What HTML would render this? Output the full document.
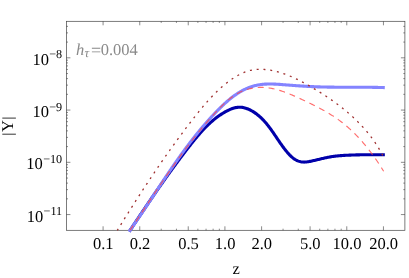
<!DOCTYPE html>
<html><head><meta charset="utf-8"><title>plot</title>
<style>html,body{margin:0;padding:0;background:#fff;}body{width:409px;height:278px;overflow:hidden;font-family:"Liberation Serif",serif;}</style>
</head><body>
<svg width="409" height="278" viewBox="0 0 409 278" style="display:block;will-change:transform">
<rect width="409" height="278" fill="#fff"/>
<g stroke="#444444" stroke-width="0.7" fill="none">
<rect x="66.4" y="21.3" width="338.5" height="209.0"/>
<path d="M103.08,230.3 v-4 M103.08,21.3 v4 M139.76,230.3 v-4 M139.76,21.3 v4 M188.24,230.3 v-4 M188.24,21.3 v4 M224.92,230.3 v-4 M224.92,21.3 v4 M261.60,230.3 v-4 M261.60,21.3 v4 M310.09,230.3 v-4 M310.09,21.3 v4 M346.77,230.3 v-4 M346.77,21.3 v4 M383.44,230.3 v-4 M383.44,21.3 v4 M161.21,230.3 v-1.6 M161.21,21.3 v1.6 M176.44,230.3 v-1.6 M176.44,21.3 v1.6 M197.89,230.3 v-1.6 M197.89,21.3 v1.6 M206.05,230.3 v-1.6 M206.05,21.3 v1.6 M213.11,230.3 v-1.6 M213.11,21.3 v1.6 M219.35,230.3 v-1.6 M219.35,21.3 v1.6 M283.06,230.3 v-1.6 M283.06,21.3 v1.6 M298.28,230.3 v-1.6 M298.28,21.3 v1.6 M319.73,230.3 v-1.6 M319.73,21.3 v1.6 M327.89,230.3 v-1.6 M327.89,21.3 v1.6 M334.96,230.3 v-1.6 M334.96,21.3 v1.6 M341.19,230.3 v-1.6 M341.19,21.3 v1.6 M66.4,214.57 h4 M404.9,214.57 h-4 M66.4,162.32 h4 M404.9,162.32 h-4 M66.4,110.07 h4 M404.9,110.07 h-4 M66.4,57.82 h4 M404.9,57.82 h-4 M66.4,198.84 h1.6 M404.9,198.84 h-1.6 M66.4,189.64 h1.6 M404.9,189.64 h-1.6 M66.4,183.11 h1.6 M404.9,183.11 h-1.6 M66.4,178.05 h1.6 M404.9,178.05 h-1.6 M66.4,173.91 h1.6 M404.9,173.91 h-1.6 M66.4,170.41 h1.6 M404.9,170.41 h-1.6 M66.4,167.38 h1.6 M404.9,167.38 h-1.6 M66.4,164.71 h1.6 M404.9,164.71 h-1.6 M66.4,146.59 h1.6 M404.9,146.59 h-1.6 M66.4,137.39 h1.6 M404.9,137.39 h-1.6 M66.4,130.86 h1.6 M404.9,130.86 h-1.6 M66.4,125.80 h1.6 M404.9,125.80 h-1.6 M66.4,121.66 h1.6 M404.9,121.66 h-1.6 M66.4,118.16 h1.6 M404.9,118.16 h-1.6 M66.4,115.13 h1.6 M404.9,115.13 h-1.6 M66.4,112.46 h1.6 M404.9,112.46 h-1.6 M66.4,94.34 h1.6 M404.9,94.34 h-1.6 M66.4,85.14 h1.6 M404.9,85.14 h-1.6 M66.4,78.61 h1.6 M404.9,78.61 h-1.6 M66.4,73.55 h1.6 M404.9,73.55 h-1.6 M66.4,69.41 h1.6 M404.9,69.41 h-1.6 M66.4,65.91 h1.6 M404.9,65.91 h-1.6 M66.4,62.88 h1.6 M404.9,62.88 h-1.6 M66.4,60.21 h1.6 M404.9,60.21 h-1.6 M66.4,42.09 h1.6 M404.9,42.09 h-1.6 M66.4,32.89 h1.6 M404.9,32.89 h-1.6 M66.4,26.36 h1.6 M404.9,26.36 h-1.6" stroke-width="0.6" stroke="#3c3c3c"/>
</g>
<g fill="none">
<path d="M130.09,230.30 L130.17,230.18 L130.64,229.47 L131.12,228.75 L131.60,228.04 L132.07,227.32 L132.55,226.60 L133.02,225.89 L133.50,225.17 L133.98,224.46 L134.45,223.75 L134.93,223.03 L135.40,222.32 L135.88,221.60 L136.36,220.89 L136.83,220.18 L137.31,219.46 L137.79,218.75 L138.26,218.04 L138.74,217.33 L139.21,216.61 L139.69,215.90 L140.17,215.19 L140.64,214.48 L141.12,213.77 L141.60,213.06 L142.07,212.35 L142.55,211.64 L143.03,210.93 L143.50,210.22 L143.98,209.51 L144.46,208.80 L144.94,208.09 L145.41,207.38 L145.89,206.68 L146.37,205.97 L146.85,205.26 L147.33,204.55 L147.81,203.85 L148.28,203.14 L148.76,202.44 L149.24,201.73 L149.72,201.02 L150.20,200.32 L150.68,199.61 L151.16,198.91 L151.64,198.20 L152.13,197.50 L152.61,196.80 L153.09,196.09 L153.57,195.39 L154.05,194.69 L154.54,193.98 L155.02,193.28 L155.50,192.58 L155.99,191.88 L156.47,191.18 L156.96,190.48 L157.44,189.78 L157.93,189.08 L158.41,188.38 L158.90,187.68 L159.39,186.98 L159.88,186.28 L160.36,185.58 L160.85,184.88 L161.34,184.18 L161.83,183.49 L162.32,182.79 L162.81,182.09 L163.30,181.39 L163.79,180.70 L164.29,180.00 L164.78,179.31 L165.27,178.61 L165.77,177.92 L166.26,177.22 L166.76,176.53 L167.25,175.84 L167.75,175.14 L168.24,174.45 L168.74,173.76 L169.24,173.06 L169.74,172.37 L170.24,171.68 L170.74,170.99 L171.24,170.30 L171.74,169.61 L172.24,168.92 L172.75,168.23 L173.25,167.54 L173.75,166.85 L174.26,166.16 L174.77,165.47 L175.27,164.79 L175.78,164.10 L176.29,163.41 L176.80,162.72 L177.31,162.04 L177.82,161.35 L178.33,160.67 L178.84,159.98 L179.35,159.30 L179.87,158.61 L180.38,157.93 L180.90,157.25 L181.42,156.56 L181.93,155.88 L182.45,155.20 L182.97,154.52 L183.49,153.83 L184.01,153.15 L184.53,152.47 L185.06,151.79 L185.58,151.11 L186.10,150.43 L186.63,149.75 L187.16,149.08 L187.69,148.40 L188.21,147.72 L188.74,147.04 L189.27,146.37 L189.81,145.69 L190.34,145.01 L190.87,144.34 L191.41,143.66 L191.95,142.99 L192.48,142.32 L193.02,141.64 L193.56,140.97 L194.11,140.31 L194.65,139.64 L195.20,138.97 L195.75,138.31 L196.30,137.65 L196.85,136.99 L197.41,136.33 L197.96,135.68 L198.52,135.02 L199.09,134.37 L199.65,133.73 L200.22,133.08 L200.79,132.44 L201.36,131.80 L201.94,131.17 L202.52,130.54 L203.10,129.91 L203.69,129.29 L204.28,128.67 L204.87,128.05 L205.47,127.44 L206.07,126.83 L206.67,126.23 L207.28,125.63 L207.89,125.04 L208.51,124.45 L209.13,123.87 L209.75,123.29 L210.38,122.72 L211.02,122.15 L211.65,121.59 L212.30,121.03 L212.94,120.48 L213.60,119.93 L214.25,119.40 L214.91,118.86 L215.58,118.34 L216.25,117.82 L216.93,117.31 L217.61,116.80 L218.30,116.30 L218.99,115.81 L219.69,115.32 L220.40,114.85 L221.11,114.38 L221.82,113.91 L222.54,113.46 L223.27,113.01 L224.01,112.57 L224.75,112.14 L225.50,111.72 L226.25,111.31 L227.01,110.91 L227.78,110.52 L228.55,110.14 L229.32,109.78 L230.10,109.43 L230.89,109.11 L231.68,108.80 L232.48,108.52 L233.28,108.26 L234.08,108.02 L234.89,107.82 L235.70,107.64 L236.52,107.48 L237.33,107.37 L238.15,107.28 L238.98,107.23 L239.80,107.21 L240.63,107.23 L241.46,107.30 L242.29,107.40 L243.12,107.53 L243.95,107.71 L244.78,107.92 L245.60,108.15 L246.42,108.42 L247.24,108.72 L248.05,109.05 L248.86,109.40 L249.66,109.77 L250.45,110.16 L251.23,110.57 L252.00,111.00 L252.76,111.45 L253.50,111.91 L254.24,112.38 L254.96,112.86 L255.67,113.36 L256.37,113.87 L257.06,114.39 L257.73,114.92 L258.40,115.47 L259.06,116.02 L259.70,116.58 L260.34,117.16 L260.97,117.74 L261.58,118.34 L262.19,118.94 L262.79,119.55 L263.38,120.17 L263.97,120.79 L264.54,121.42 L265.11,122.06 L265.67,122.71 L266.23,123.36 L266.77,124.02 L267.31,124.68 L267.85,125.35 L268.38,126.02 L268.90,126.70 L269.42,127.38 L269.93,128.07 L270.43,128.75 L270.94,129.44 L271.43,130.14 L271.93,130.83 L272.42,131.53 L272.91,132.23 L273.39,132.93 L273.87,133.63 L274.35,134.34 L274.83,135.04 L275.31,135.75 L275.78,136.46 L276.26,137.16 L276.74,137.87 L277.21,138.58 L277.69,139.29 L278.17,140.00 L278.65,140.70 L279.13,141.41 L279.61,142.12 L280.10,142.82 L280.59,143.53 L281.08,144.23 L281.58,144.93 L282.08,145.63 L282.59,146.33 L283.10,147.02 L283.61,147.72 L284.13,148.41 L284.66,149.10 L285.20,149.78 L285.74,150.47 L286.29,151.15 L286.85,151.82 L287.41,152.49 L287.98,153.14 L288.56,153.79 L289.15,154.43 L289.75,155.05 L290.36,155.65 L290.98,156.24 L291.61,156.81 L292.24,157.37 L292.89,157.89 L293.55,158.40 L294.22,158.88 L294.90,159.33 L295.60,159.76 L296.30,160.15 L297.02,160.51 L297.75,160.84 L298.49,161.13 L299.25,161.39 L300.02,161.61 L300.80,161.78 L301.60,161.92 L302.41,162.01 L303.24,162.07 L304.07,162.08 L304.92,162.06 L305.77,162.01 L306.64,161.93 L307.50,161.82 L308.38,161.69 L309.25,161.54 L310.13,161.38 L311.01,161.20 L311.89,161.01 L312.76,160.81 L313.63,160.61 L314.50,160.41 L315.36,160.20 L316.22,160.00 L317.07,159.79 L317.92,159.59 L318.76,159.39 L319.60,159.18 L320.44,158.98 L321.28,158.79 L322.11,158.59 L322.95,158.40 L323.78,158.21 L324.61,158.02 L325.44,157.84 L326.26,157.66 L327.09,157.49 L327.92,157.33 L328.75,157.17 L329.58,157.01 L330.42,156.86 L331.25,156.72 L332.08,156.59 L332.92,156.47 L333.76,156.35 L334.61,156.24 L335.45,156.14 L336.30,156.04 L337.14,155.95 L337.99,155.87 L338.84,155.79 L339.70,155.72 L340.55,155.65 L341.40,155.59 L342.26,155.53 L343.11,155.47 L343.97,155.42 L344.82,155.37 L345.68,155.32 L346.53,155.27 L347.39,155.23 L348.24,155.19 L349.10,155.15 L349.95,155.11 L350.81,155.08 L351.66,155.05 L352.52,155.02 L353.38,154.99 L354.23,154.96 L355.09,154.93 L355.94,154.91 L356.80,154.89 L357.65,154.87 L358.51,154.85 L359.36,154.83 L360.22,154.82 L361.07,154.80 L361.93,154.79 L362.78,154.78 L363.64,154.76 L364.49,154.75 L365.35,154.75 L366.20,154.74 L367.06,154.73 L367.91,154.72 L368.77,154.72 L369.62,154.71 L370.48,154.71 L371.33,154.71 L372.19,154.71 L373.04,154.70 L373.90,154.70 L374.75,154.70 L375.61,154.70 L376.46,154.70 L377.32,154.70 L378.17,154.70 L379.03,154.70 L379.88,154.70 L380.73,154.70 L381.59,154.70 L382.44,154.70 L383.30,154.70" stroke="#0000aa" stroke-width="3.1" stroke-linecap="square"/>
<path d="M129.97,230.30 L130.01,230.24 L130.49,229.57 L130.97,228.89 L131.45,228.21 L131.92,227.53 L132.40,226.85 L132.87,226.18 L133.34,225.50 L133.82,224.82 L134.29,224.14 L134.76,223.46 L135.23,222.78 L135.70,222.09 L136.17,221.41 L136.63,220.73 L137.10,220.05 L137.57,219.37 L138.03,218.69 L138.50,218.00 L138.96,217.32 L139.42,216.64 L139.89,215.96 L140.35,215.27 L140.81,214.59 L141.27,213.91 L141.73,213.22 L142.19,212.54 L142.65,211.85 L143.11,211.17 L143.56,210.48 L144.02,209.80 L144.48,209.12 L144.93,208.43 L145.39,207.75 L145.85,207.06 L146.30,206.38 L146.76,205.69 L147.21,205.01 L147.66,204.32 L148.12,203.64 L148.57,202.95 L149.02,202.26 L149.48,201.58 L149.93,200.89 L150.38,200.21 L150.83,199.52 L151.28,198.84 L151.74,198.15 L152.19,197.47 L152.64,196.78 L153.09,196.10 L153.54,195.41 L153.99,194.73 L154.44,194.04 L154.89,193.36 L155.34,192.67 L155.79,191.99 L156.24,191.30 L156.69,190.62 L157.15,189.94 L157.60,189.25 L158.05,188.57 L158.50,187.88 L158.95,187.20 L159.40,186.52 L159.85,185.83 L160.30,185.15 L160.75,184.47 L161.20,183.79 L161.65,183.10 L162.11,182.42 L162.56,181.74 L163.01,181.06 L163.46,180.38 L163.92,179.70 L164.37,179.01 L164.82,178.33 L165.28,177.65 L165.73,176.97 L166.19,176.30 L166.64,175.62 L167.10,174.94 L167.55,174.26 L168.01,173.58 L168.46,172.90 L168.92,172.23 L169.38,171.55 L169.84,170.87 L170.29,170.20 L170.75,169.52 L171.21,168.85 L171.67,168.17 L172.13,167.50 L172.60,166.82 L173.06,166.15 L173.52,165.48 L173.98,164.80 L174.45,164.13 L174.91,163.46 L175.38,162.79 L175.84,162.12 L176.31,161.45 L176.78,160.78 L177.25,160.11 L177.72,159.44 L178.19,158.77 L178.66,158.11 L179.13,157.44 L179.60,156.77 L180.08,156.11 L180.55,155.44 L181.03,154.78 L181.50,154.12 L181.98,153.45 L182.46,152.79 L182.94,152.13 L183.42,151.47 L183.90,150.81 L184.38,150.15 L184.87,149.49 L185.35,148.83 L185.84,148.17 L186.32,147.52 L186.81,146.86 L187.30,146.21 L187.79,145.55 L188.28,144.90 L188.78,144.25 L189.27,143.59 L189.76,142.94 L190.26,142.29 L190.76,141.64 L191.26,140.99 L191.76,140.34 L192.26,139.70 L192.76,139.05 L193.27,138.41 L193.77,137.76 L194.28,137.12 L194.79,136.47 L195.30,135.83 L195.81,135.19 L196.32,134.55 L196.84,133.91 L197.35,133.27 L197.87,132.63 L198.39,132.00 L198.91,131.36 L199.43,130.73 L199.96,130.09 L200.48,129.46 L201.01,128.83 L201.54,128.20 L202.07,127.57 L202.60,126.94 L203.14,126.31 L203.67,125.69 L204.21,125.06 L204.75,124.43 L205.29,123.81 L205.83,123.19 L206.38,122.57 L206.92,121.95 L207.47,121.33 L208.02,120.71 L208.57,120.09 L209.13,119.48 L209.68,118.86 L210.24,118.25 L210.80,117.64 L211.36,117.03 L211.92,116.42 L212.49,115.81 L213.06,115.20 L213.63,114.59 L214.20,113.99 L214.77,113.38 L215.35,112.78 L215.93,112.18 L216.51,111.58 L217.09,110.98 L217.67,110.38 L218.26,109.79 L218.85,109.19 L219.44,108.60 L220.03,108.02 L220.63,107.43 L221.23,106.85 L221.83,106.27 L222.43,105.69 L223.04,105.12 L223.65,104.55 L224.26,103.98 L224.88,103.42 L225.49,102.86 L226.11,102.31 L226.73,101.76 L227.36,101.22 L227.99,100.68 L228.62,100.14 L229.25,99.62 L229.89,99.09 L230.53,98.58 L231.18,98.06 L231.82,97.56 L232.47,97.06 L233.12,96.57 L233.78,96.08 L234.44,95.60 L235.10,95.13 L235.77,94.67 L236.44,94.21 L237.11,93.76 L237.79,93.32 L238.47,92.89 L239.15,92.46 L239.84,92.04 L240.53,91.64 L241.23,91.24 L241.92,90.85 L242.63,90.46 L243.33,90.09 L244.04,89.73 L244.76,89.38 L245.47,89.03 L246.20,88.70 L246.92,88.38 L247.65,88.07 L248.38,87.77 L249.12,87.48 L249.87,87.20 L250.61,86.93 L251.36,86.67 L252.12,86.43 L252.88,86.20 L253.64,85.97 L254.41,85.77 L255.18,85.57 L255.96,85.39 L256.74,85.22 L257.53,85.06 L258.32,84.91 L259.11,84.78 L259.91,84.66 L260.71,84.55 L261.52,84.46 L262.33,84.37 L263.15,84.29 L263.96,84.23 L264.78,84.17 L265.61,84.13 L266.43,84.09 L267.26,84.06 L268.09,84.04 L268.92,84.03 L269.76,84.02 L270.59,84.03 L271.43,84.04 L272.27,84.05 L273.11,84.07 L273.95,84.10 L274.80,84.14 L275.64,84.17 L276.49,84.21 L277.33,84.26 L278.17,84.31 L279.02,84.36 L279.86,84.42 L280.71,84.48 L281.55,84.54 L282.39,84.60 L283.24,84.67 L284.08,84.73 L284.92,84.80 L285.75,84.87 L286.59,84.93 L287.42,85.00 L288.26,85.07 L289.09,85.13 L289.92,85.19 L290.75,85.26 L291.57,85.32 L292.40,85.38 L293.22,85.44 L294.04,85.50 L294.86,85.56 L295.68,85.62 L296.50,85.68 L297.31,85.74 L298.13,85.79 L298.94,85.85 L299.76,85.90 L300.57,85.96 L301.38,86.01 L302.19,86.06 L303.00,86.11 L303.81,86.16 L304.62,86.21 L305.43,86.26 L306.24,86.30 L307.05,86.35 L307.86,86.39 L308.67,86.44 L309.47,86.48 L310.28,86.52 L311.09,86.56 L311.90,86.60 L312.71,86.63 L313.51,86.67 L314.32,86.71 L315.13,86.74 L315.94,86.77 L316.75,86.80 L317.56,86.83 L318.37,86.86 L319.18,86.89 L320.00,86.91 L320.81,86.94 L321.62,86.96 L322.44,86.98 L323.25,87.00 L324.07,87.02 L324.89,87.04 L325.70,87.06 L326.52,87.07 L327.34,87.09 L328.16,87.10 L328.98,87.11 L329.80,87.13 L330.62,87.14 L331.45,87.15 L332.27,87.16 L333.09,87.16 L333.91,87.17 L334.74,87.18 L335.56,87.18 L336.39,87.19 L337.21,87.19 L338.04,87.20 L338.86,87.20 L339.69,87.20 L340.51,87.21 L341.34,87.21 L342.17,87.21 L342.99,87.21 L343.82,87.21 L344.65,87.21 L345.47,87.21 L346.30,87.21 L347.13,87.21 L347.96,87.21 L348.78,87.21 L349.61,87.21 L350.44,87.21 L351.26,87.21 L352.09,87.21 L352.92,87.21 L353.75,87.21 L354.57,87.21 L355.40,87.21 L356.23,87.21 L357.05,87.21 L357.88,87.21 L358.70,87.22 L359.53,87.22 L360.35,87.22 L361.18,87.22 L362.00,87.22 L362.83,87.23 L363.65,87.23 L364.48,87.24 L365.30,87.24 L366.12,87.25 L366.94,87.26 L367.76,87.26 L368.59,87.27 L369.41,87.28 L370.23,87.29 L371.04,87.30 L371.86,87.31 L372.68,87.33 L373.50,87.34 L374.31,87.35 L375.13,87.37 L375.94,87.39 L376.76,87.41 L377.57,87.42 L378.38,87.45 L379.20,87.47 L380.01,87.49 L380.82,87.52 L381.63,87.54 L382.43,87.57 L383.24,87.60" stroke="#8484ff" stroke-width="3.1" stroke-linecap="square"/>
<path d="M129.94,230.30 L130.25,229.84 L130.76,229.09 L131.26,228.34 L131.77,227.59 L132.27,226.84 L132.78,226.09 L133.28,225.34 L133.78,224.59 L134.29,223.84 L134.79,223.09 L135.29,222.34 L135.79,221.59 L136.30,220.84 L136.80,220.09 L137.30,219.34 L137.80,218.59 L138.30,217.83 L138.80,217.08 L139.30,216.33 L139.79,215.58 L140.29,214.83 L140.79,214.08 L141.29,213.33 L141.79,212.58 L142.28,211.83 L142.78,211.08 L143.28,210.33 L143.78,209.58 L144.27,208.83 L144.77,208.08 L145.27,207.33 L145.76,206.58 L146.26,205.83 L146.76,205.09 L147.25,204.34 L147.75,203.59 L148.24,202.84 L148.74,202.09 L149.24,201.34 L149.73,200.59 L150.23,199.85 L150.72,199.10 L151.22,198.35 L151.72,197.60 L152.21,196.86 L152.71,196.11 L153.21,195.36 L153.70,194.62 L154.20,193.87 L154.70,193.13 L155.19,192.38 L155.69,191.64 L156.19,190.89 L156.69,190.15 L157.18,189.40 L157.68,188.66 L158.18,187.91 L158.68,187.17 L159.18,186.43 L159.68,185.68 L160.18,184.94 L160.68,184.20 L161.18,183.46 L161.68,182.72 L162.18,181.98 L162.68,181.24 L163.18,180.49 L163.69,179.76 L164.19,179.02 L164.69,178.28 L165.20,177.54 L165.70,176.80 L166.21,176.06 L166.71,175.32 L167.22,174.59 L167.72,173.85 L168.23,173.12 L168.74,172.38 L169.25,171.65 L169.76,170.91 L170.27,170.18 L170.78,169.44 L171.29,168.71 L171.80,167.98 L172.31,167.24 L172.82,166.51 L173.34,165.78 L173.85,165.05 L174.37,164.32 L174.88,163.59 L175.40,162.86 L175.92,162.14 L176.44,161.41 L176.95,160.68 L177.47,159.95 L178.00,159.23 L178.52,158.50 L179.04,157.78 L179.56,157.05 L180.09,156.33 L180.61,155.61 L181.14,154.88 L181.67,154.16 L182.20,153.44 L182.73,152.72 L183.26,152.00 L183.79,151.28 L184.32,150.56 L184.85,149.85 L185.39,149.13 L185.92,148.41 L186.46,147.70 L187.00,146.98 L187.54,146.27 L188.08,145.56 L188.62,144.84 L189.16,144.13 L189.71,143.42 L190.25,142.71 L190.80,142.00 L191.35,141.29 L191.89,140.58 L192.45,139.88 L193.00,139.17 L193.55,138.46 L194.10,137.76 L194.66,137.05 L195.22,136.35 L195.77,135.65 L196.33,134.95 L196.89,134.25 L197.46,133.55 L198.02,132.85 L198.59,132.15 L199.15,131.45 L199.72,130.75 L200.29,130.06 L200.86,129.36 L201.44,128.67 L202.01,127.98 L202.59,127.29 L203.16,126.59 L203.74,125.90 L204.32,125.21 L204.90,124.53 L205.49,123.84 L206.07,123.15 L206.66,122.47 L207.25,121.78 L207.84,121.10 L208.43,120.42 L209.03,119.74 L209.62,119.05 L210.22,118.38 L210.82,117.70 L211.42,117.02 L212.02,116.34 L212.63,115.67 L213.24,114.99 L213.84,114.32 L214.45,113.65 L215.07,112.98 L215.68,112.31 L216.30,111.64 L216.91,110.97 L217.54,110.30 L218.16,109.64 L218.78,108.98 L219.41,108.32 L220.04,107.67 L220.68,107.02 L221.32,106.37 L221.96,105.73 L222.60,105.09 L223.25,104.46 L223.91,103.84 L224.56,103.22 L225.22,102.61 L225.89,102.00 L226.56,101.40 L227.24,100.81 L227.92,100.23 L228.61,99.66 L229.30,99.09 L230.00,98.54 L230.70,97.99 L231.42,97.46 L232.13,96.93 L232.86,96.42 L233.59,95.92 L234.32,95.42 L235.07,94.95 L235.82,94.48 L236.58,94.03 L237.34,93.59 L238.12,93.16 L238.90,92.75 L239.69,92.35 L240.49,91.97 L241.30,91.60 L242.11,91.25 L242.93,90.91 L243.76,90.59 L244.60,90.29 L245.44,90.00 L246.29,89.72 L247.14,89.46 L248.00,89.21 L248.86,88.98 L249.73,88.77 L250.60,88.57 L251.47,88.39 L252.35,88.22 L253.23,88.07 L254.11,87.93 L254.99,87.81 L255.88,87.71 L256.77,87.62 L257.65,87.54 L258.54,87.48 L259.43,87.44 L260.32,87.42 L261.20,87.41 L262.09,87.41 L262.97,87.43 L263.85,87.47 L264.74,87.52 L265.62,87.59 L266.50,87.67 L267.37,87.76 L268.25,87.87 L269.13,87.99 L270.00,88.13 L270.87,88.27 L271.74,88.43 L272.61,88.60 L273.48,88.79 L274.35,88.98 L275.22,89.19 L276.08,89.40 L276.95,89.63 L277.81,89.87 L278.67,90.11 L279.53,90.37 L280.39,90.64 L281.25,90.91 L282.11,91.19 L282.96,91.48 L283.82,91.78 L284.67,92.09 L285.52,92.40 L286.37,92.72 L287.22,93.05 L288.07,93.38 L288.92,93.72 L289.76,94.06 L290.61,94.41 L291.45,94.77 L292.29,95.12 L293.13,95.49 L293.97,95.85 L294.81,96.23 L295.65,96.60 L296.48,96.98 L297.32,97.36 L298.15,97.74 L298.98,98.12 L299.82,98.51 L300.64,98.89 L301.47,99.28 L302.30,99.67 L303.13,100.06 L303.95,100.45 L304.77,100.84 L305.60,101.23 L306.42,101.62 L307.23,102.01 L308.05,102.41 L308.87,102.80 L309.68,103.19 L310.49,103.59 L311.30,103.99 L312.11,104.38 L312.92,104.78 L313.73,105.19 L314.53,105.59 L315.33,106.00 L316.13,106.40 L316.93,106.81 L317.73,107.22 L318.52,107.64 L319.31,108.05 L320.10,108.47 L320.89,108.90 L321.67,109.32 L322.45,109.75 L323.23,110.18 L324.01,110.61 L324.79,111.05 L325.56,111.49 L326.33,111.93 L327.10,112.38 L327.86,112.83 L328.62,113.28 L329.38,113.74 L330.14,114.21 L330.89,114.67 L331.65,115.14 L332.39,115.62 L333.14,116.10 L333.88,116.58 L334.62,117.07 L335.36,117.57 L336.09,118.07 L336.82,118.57 L337.54,119.08 L338.27,119.60 L338.99,120.12 L339.70,120.64 L340.42,121.17 L341.12,121.71 L341.83,122.25 L342.53,122.80 L343.23,123.35 L343.93,123.91 L344.62,124.48 L345.31,125.05 L345.99,125.62 L346.68,126.20 L347.35,126.79 L348.03,127.38 L348.70,127.97 L349.37,128.57 L350.03,129.18 L350.69,129.79 L351.35,130.40 L352.01,131.02 L352.66,131.64 L353.30,132.27 L353.95,132.90 L354.59,133.53 L355.22,134.17 L355.86,134.82 L356.49,135.47 L357.11,136.12 L357.74,136.77 L358.36,137.43 L358.97,138.09 L359.59,138.76 L360.20,139.43 L360.80,140.10 L361.40,140.78 L362.00,141.46 L362.60,142.14 L363.19,142.83 L363.78,143.52 L364.37,144.21 L364.95,144.90 L365.53,145.60 L366.10,146.30 L366.67,147.01 L367.24,147.71 L367.81,148.42 L368.37,149.13 L368.92,149.84 L369.48,150.56 L370.03,151.28 L370.58,151.99 L371.12,152.72 L371.66,153.44 L372.20,154.17 L372.73,154.89 L373.27,155.62 L373.79,156.35 L374.32,157.08 L374.84,157.82 L375.35,158.55 L375.87,159.29 L376.38,160.03 L376.88,160.76 L377.39,161.50 L377.89,162.24 L378.38,162.99 L378.88,163.73 L379.37,164.47 L379.85,165.22 L380.34,165.96 L380.81,166.71 L381.29,167.45 L381.76,168.20 L382.23,168.94 L382.70,169.69 L383.16,170.44 L383.62,171.18" stroke="#ff4848" stroke-opacity="0.8" stroke-width="1.15" stroke-dasharray="6 4.92" stroke-dashoffset="0.36"/>
<path d="M117.32,230.30 L117.63,229.80 L118.13,228.99 L118.63,228.18 L119.13,227.37 L119.63,226.56 L120.13,225.74 L120.63,224.93 L121.14,224.12 L121.64,223.31 L122.14,222.50 L122.64,221.69 L123.15,220.88 L123.65,220.07 L124.16,219.26 L124.66,218.45 L125.17,217.64 L125.67,216.83 L126.18,216.02 L126.69,215.22 L127.19,214.41 L127.70,213.60 L128.21,212.79 L128.72,211.98 L129.23,211.18 L129.73,210.37 L130.24,209.56 L130.75,208.75 L131.26,207.95 L131.78,207.14 L132.29,206.33 L132.80,205.53 L133.31,204.72 L133.82,203.92 L134.34,203.11 L134.85,202.31 L135.37,201.50 L135.88,200.70 L136.40,199.89 L136.91,199.09 L137.43,198.29 L137.95,197.48 L138.46,196.68 L138.98,195.88 L139.50,195.08 L140.02,194.27 L140.54,193.47 L141.06,192.67 L141.58,191.87 L142.10,191.07 L142.62,190.27 L143.14,189.47 L143.66,188.67 L144.19,187.87 L144.71,187.07 L145.23,186.27 L145.76,185.47 L146.28,184.68 L146.81,183.88 L147.34,183.08 L147.86,182.28 L148.39,181.49 L148.92,180.69 L149.45,179.90 L149.97,179.10 L150.50,178.31 L151.03,177.51 L151.56,176.72 L152.10,175.92 L152.63,175.13 L153.16,174.34 L153.69,173.55 L154.23,172.75 L154.76,171.96 L155.30,171.17 L155.83,170.38 L156.37,169.59 L156.90,168.80 L157.44,168.01 L157.98,167.22 L158.52,166.43 L159.06,165.65 L159.60,164.86 L160.14,164.07 L160.68,163.29 L161.22,162.50 L161.76,161.71 L162.30,160.93 L162.85,160.14 L163.39,159.36 L163.94,158.58 L164.48,157.79 L165.03,157.01 L165.57,156.23 L166.12,155.45 L166.67,154.67 L167.22,153.89 L167.77,153.11 L168.32,152.33 L168.87,151.55 L169.42,150.77 L169.97,149.99 L170.52,149.22 L171.08,148.44 L171.63,147.66 L172.19,146.89 L172.74,146.11 L173.30,145.34 L173.85,144.56 L174.41,143.79 L174.97,143.02 L175.53,142.25 L176.09,141.48 L176.65,140.70 L177.21,139.93 L177.78,139.16 L178.34,138.39 L178.90,137.63 L179.47,136.86 L180.04,136.09 L180.60,135.32 L181.17,134.56 L181.74,133.79 L182.31,133.03 L182.88,132.26 L183.45,131.50 L184.02,130.73 L184.59,129.97 L185.17,129.21 L185.74,128.45 L186.32,127.69 L186.90,126.93 L187.47,126.17 L188.05,125.41 L188.63,124.65 L189.21,123.89 L189.79,123.13 L190.38,122.38 L190.96,121.62 L191.54,120.87 L192.13,120.11 L192.71,119.36 L193.30,118.60 L193.89,117.85 L194.48,117.10 L195.07,116.35 L195.66,115.60 L196.25,114.85 L196.85,114.10 L197.44,113.35 L198.04,112.60 L198.64,111.86 L199.24,111.11 L199.84,110.37 L200.45,109.63 L201.05,108.89 L201.66,108.15 L202.27,107.42 L202.89,106.69 L203.50,105.95 L204.12,105.22 L204.74,104.50 L205.36,103.77 L205.99,103.05 L206.62,102.33 L207.25,101.61 L207.89,100.90 L208.53,100.19 L209.17,99.48 L209.81,98.78 L210.46,98.07 L211.11,97.38 L211.77,96.68 L212.43,95.99 L213.09,95.30 L213.76,94.62 L214.43,93.94 L215.11,93.26 L215.79,92.59 L216.47,91.92 L217.16,91.25 L217.86,90.59 L218.55,89.94 L219.26,89.29 L219.96,88.64 L220.68,88.00 L221.40,87.36 L222.12,86.73 L222.85,86.10 L223.58,85.48 L224.32,84.86 L225.07,84.25 L225.82,83.65 L226.57,83.05 L227.34,82.45 L228.10,81.86 L228.88,81.28 L229.66,80.71 L230.44,80.14 L231.23,79.58 L232.03,79.03 L232.83,78.48 L233.64,77.95 L234.46,77.43 L235.28,76.92 L236.10,76.42 L236.93,75.93 L237.77,75.46 L238.61,75.00 L239.45,74.55 L240.30,74.12 L241.16,73.70 L242.02,73.30 L242.88,72.91 L243.75,72.54 L244.63,72.19 L245.51,71.85 L246.39,71.54 L247.28,71.24 L248.17,70.96 L249.07,70.71 L249.97,70.47 L250.88,70.26 L251.79,70.07 L252.71,69.90 L253.62,69.75 L254.55,69.62 L255.47,69.51 L256.40,69.43 L257.33,69.36 L258.26,69.31 L259.20,69.29 L260.14,69.27 L261.07,69.28 L262.01,69.31 L262.95,69.35 L263.89,69.40 L264.83,69.48 L265.77,69.56 L266.71,69.66 L267.65,69.78 L268.59,69.91 L269.53,70.05 L270.46,70.21 L271.39,70.38 L272.32,70.56 L273.25,70.75 L274.17,70.95 L275.10,71.16 L276.02,71.38 L276.93,71.62 L277.85,71.86 L278.76,72.12 L279.67,72.38 L280.58,72.66 L281.49,72.94 L282.39,73.23 L283.29,73.54 L284.19,73.85 L285.09,74.17 L285.99,74.50 L286.88,74.83 L287.77,75.18 L288.66,75.53 L289.54,75.89 L290.43,76.26 L291.31,76.64 L292.19,77.02 L293.06,77.41 L293.94,77.81 L294.81,78.21 L295.68,78.62 L296.55,79.04 L297.42,79.46 L298.28,79.89 L299.15,80.32 L300.01,80.76 L300.87,81.20 L301.72,81.65 L302.58,82.11 L303.43,82.56 L304.28,83.03 L305.13,83.49 L305.98,83.97 L306.82,84.44 L307.66,84.92 L308.51,85.40 L309.34,85.89 L310.18,86.37 L311.02,86.86 L311.85,87.36 L312.68,87.85 L313.51,88.35 L314.34,88.85 L315.17,89.35 L315.99,89.86 L316.81,90.36 L317.63,90.87 L318.45,91.38 L319.27,91.89 L320.08,92.40 L320.89,92.92 L321.71,93.43 L322.51,93.95 L323.32,94.47 L324.12,95.00 L324.93,95.52 L325.73,96.05 L326.52,96.58 L327.32,97.11 L328.11,97.65 L328.90,98.18 L329.69,98.72 L330.47,99.26 L331.26,99.81 L332.04,100.36 L332.82,100.90 L333.59,101.46 L334.36,102.01 L335.13,102.57 L335.90,103.13 L336.67,103.69 L337.43,104.26 L338.19,104.83 L338.94,105.40 L339.70,105.97 L340.45,106.55 L341.20,107.13 L341.94,107.72 L342.68,108.31 L343.42,108.90 L344.16,109.49 L344.89,110.09 L345.62,110.69 L346.34,111.29 L347.07,111.90 L347.79,112.51 L348.50,113.12 L349.21,113.74 L349.92,114.36 L350.63,114.99 L351.33,115.62 L352.03,116.25 L352.73,116.89 L353.42,117.53 L354.11,118.17 L354.79,118.82 L355.48,119.47 L356.15,120.13 L356.83,120.79 L357.50,121.45 L358.16,122.12 L358.83,122.79 L359.49,123.47 L360.14,124.15 L360.79,124.84 L361.44,125.53 L362.08,126.22 L362.72,126.92 L363.36,127.62 L363.99,128.33 L364.61,129.04 L365.24,129.76 L365.85,130.48 L366.47,131.21 L367.08,131.94 L367.68,132.67 L368.29,133.41 L368.88,134.16 L369.48,134.91 L370.06,135.66 L370.65,136.43 L371.23,137.19 L371.80,137.96 L372.37,138.74 L372.94,139.52 L373.50,140.30 L374.05,141.09 L374.60,141.89 L375.15,142.69 L375.69,143.50 L376.23,144.31 L376.76,145.13 L377.29,145.95 L377.81,146.78 L378.33,147.62 L378.84,148.46 L379.35,149.31 L379.85,150.16 L380.35,151.01 L380.84,151.88 L381.32,152.75 L381.80,153.62 L382.28,154.50 L382.75,155.39" stroke="#a03030" stroke-width="1.3" stroke-dasharray="2 4.81" stroke-dashoffset="0.41"/>
</g>
<g font-family="Liberation Serif, serif" font-size="16.5" fill="#000" text-rendering="geometricPrecision">
<text x="103.28" y="248.7" text-anchor="middle">0.1</text>
<text x="139.96" y="248.7" text-anchor="middle">0.2</text>
<text x="188.44" y="248.7" text-anchor="middle">0.5</text>
<text x="225.12" y="248.7" text-anchor="middle">1.0</text>
<text x="261.80" y="248.7" text-anchor="middle">2.0</text>
<text x="310.29" y="248.7" text-anchor="middle">5.0</text>
<text x="346.97" y="248.7" text-anchor="middle">10.0</text>
<text x="383.64" y="248.7" text-anchor="middle">20.0</text>
<text x="62.2" y="221.57" text-anchor="end">10<tspan font-size="12.2" dy="-6.4" dx="0.3">−11</tspan></text>
<text x="62.2" y="169.32" text-anchor="end">10<tspan font-size="12.2" dy="-6.4" dx="0.3">−10</tspan></text>
<text x="62.2" y="117.07" text-anchor="end">10<tspan font-size="12.2" dy="-6.4" dx="0.3">−9</tspan></text>
<text x="62.2" y="64.82" text-anchor="end">10<tspan font-size="12.2" dy="-6.4" dx="0.3">−8</tspan></text>
<text x="236.1" y="274.2" text-anchor="middle">z</text>
<text transform="translate(13.1,126.1) rotate(-90)" text-anchor="middle">Y</text>
<path d="M2.3,118.1 H15.9 M2.3,134.2 H15.9" stroke="#000" stroke-width="0.8" fill="none"/>
</g>
<g font-family="Liberation Serif, serif" font-size="16.5" fill="#8a8a8a" text-rendering="geometricPrecision">
<text x="75.9" y="54.8" font-style="italic">h</text>
<text x="84.6" y="57.0" font-size="13" font-style="italic">τ</text>
<text x="90.9" y="56.3" font-size="18">=</text>
<text x="100.7" y="54.6">0.004</text>
</g>
</svg>
</body></html>
